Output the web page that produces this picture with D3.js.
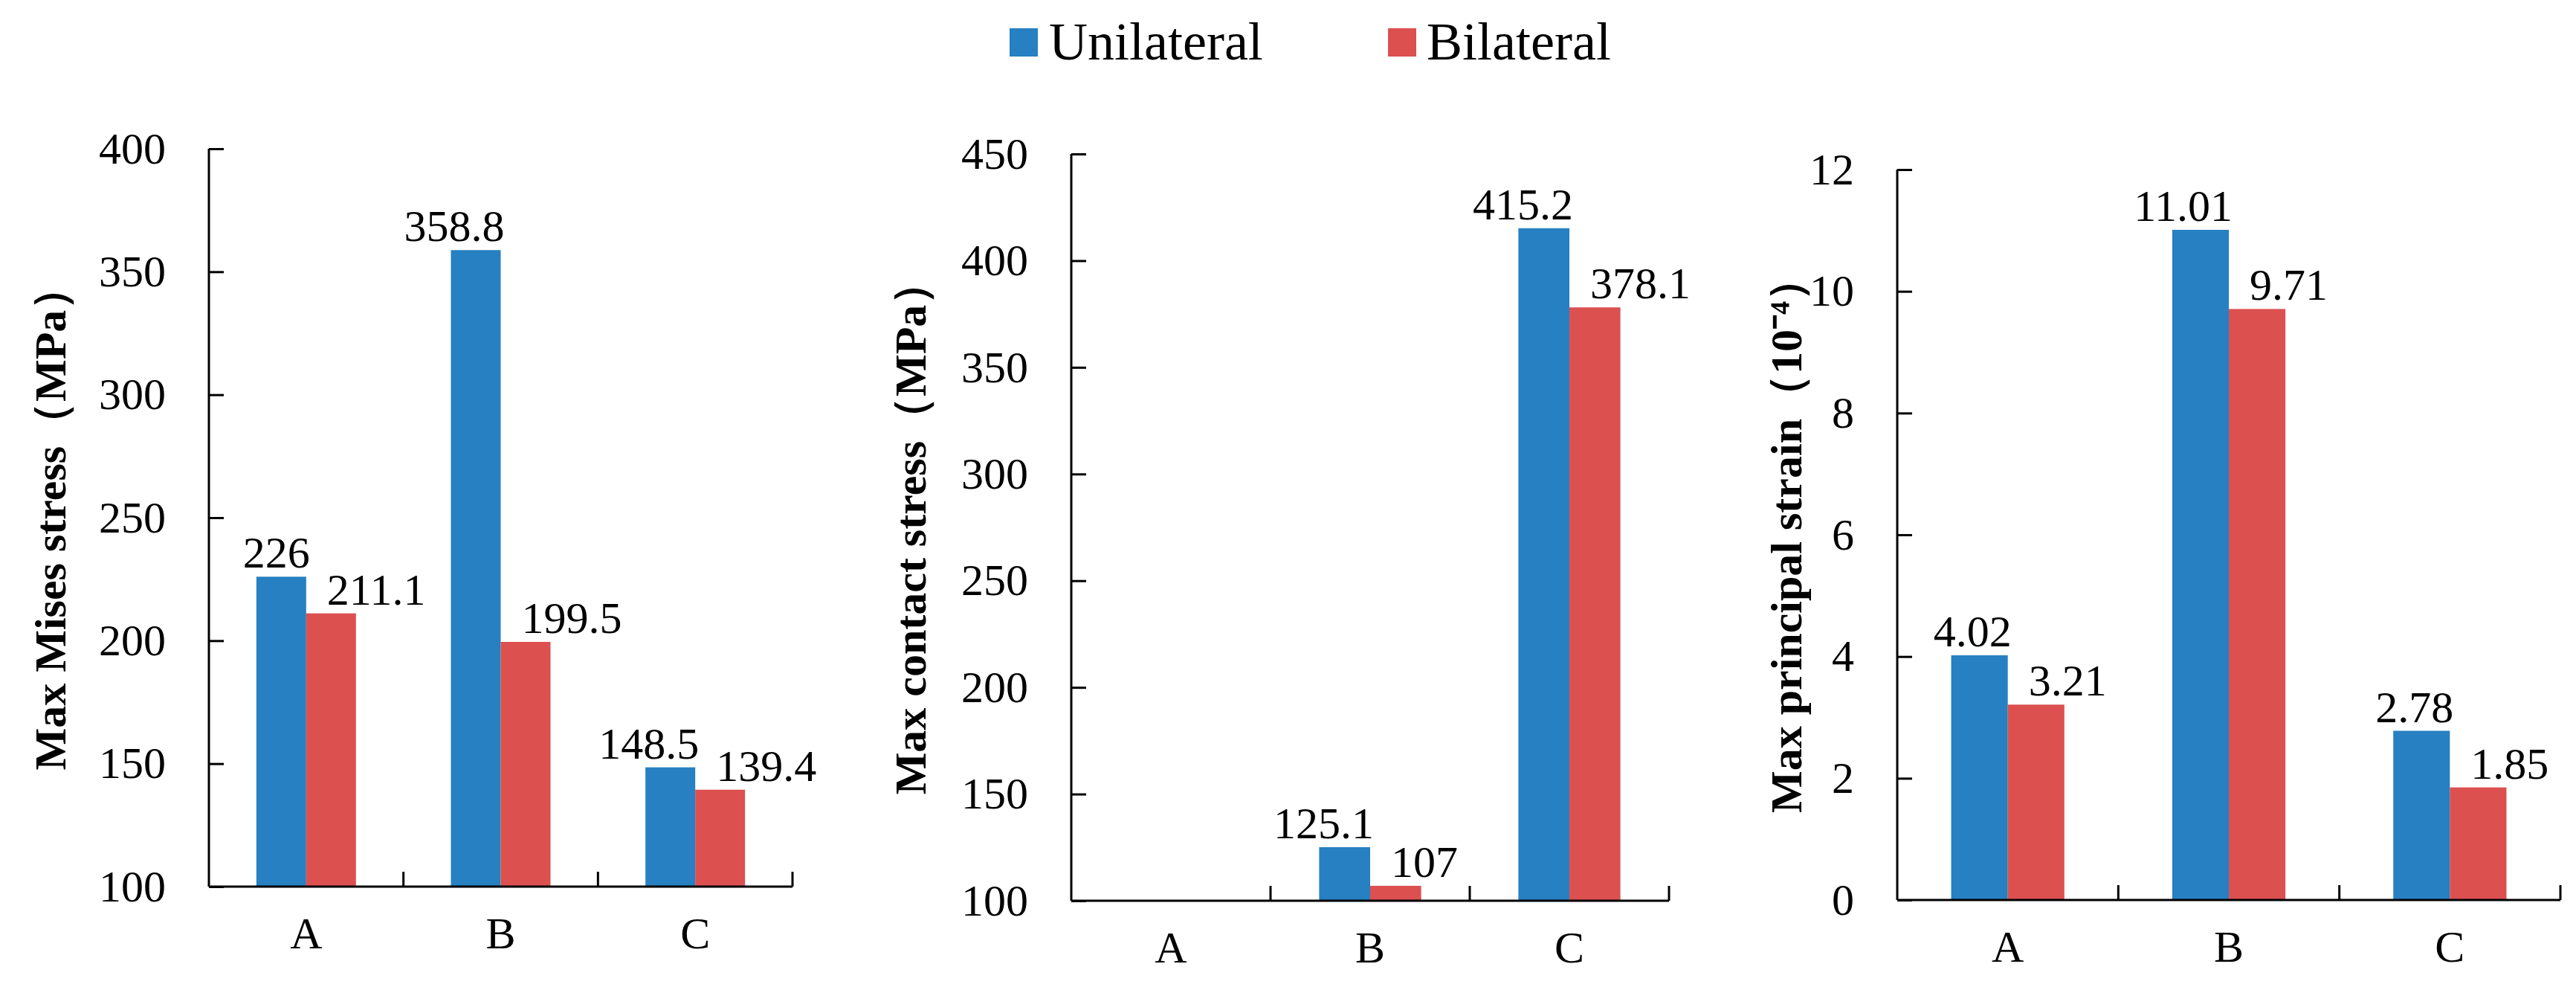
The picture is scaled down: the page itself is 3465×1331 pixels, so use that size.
<!DOCTYPE html>
<html><head><meta charset="utf-8">
<script src="https://cdn.jsdelivr.net/npm/d3@7"></script>
<style>body{margin:0;background:#fff}</style></head>
<body><svg id="c" width="3465" height="1331"></svg>
<script>
const categories = ["A","B","C"];
const seriesNames = ["Unilateral","Bilateral"];
const colors = ["#2680c1","#dc5050"];
const misesUni = [226, 358.8, 148.5];
const misesBi = [211.1, 199.5, 139.4];
const contactUni = [null, 125.1, 415.2];
const contactBi = [null, 107, 378.1];
const strainUni = [4.02, 11.01, 2.78];
const strainBi = [3.21, 9.71, 1.85];
const misesTicks = [100,150,200,250,300,350,400];
const contactTicks = [100,150,200,250,300,350,400,450];
const strainTicks = [0,2,4,6,8,10,12];

const svg = d3.select("#c");
const font = "'Liberation Serif','Times New Roman',serif";

const panels = [
  {x0:281,x1:1066,top:200,bot:1192,dom:[100,400],ticks:misesTicks,uni:misesUni,bi:misesBi,title:"Max Mises stress（MPa）",tx:68},
  {x0:1441,x1:2245,top:207,bot:1211,dom:[100,450],ticks:contactTicks,uni:contactUni,bi:contactBi,title:"Max contact stress（MPa）",tx:1225},
  {x0:2552,x1:3444,top:228,bot:1210,dom:[0,12],ticks:strainTicks,uni:strainUni,bi:strainBi,title:"Max principal strain（10⁻⁴）",tx:2403}
];

panels.forEach(p=>{
  const g = svg.append("g");
  const x = d3.scaleBand().domain(categories).range([p.x0,p.x1]);
  const y = d3.scaleLinear().domain(p.dom).range([p.bot,p.top]);
  const bw = x.bandwidth()*0.256;
  [p.uni,p.bi].forEach((vals,si)=>{
    categories.forEach((c,i)=>{
      const v = vals[i]; if(v==null) return;
      const cx = x(c)+x.bandwidth()/2;
      const left = si===0? cx-bw : cx;
      g.append("rect").attr("x",left).attr("y",y(v)).attr("width",bw).attr("height",p.bot-y(v)).attr("fill",colors[si]);
      g.append("text").attr("x", si===0? left+bw+5 : left+28).attr("y",y(v)-12)
        .attr("text-anchor", si===0?"end":"start").attr("font-family",font).attr("font-size",60).text(v);
    });
  });
  const ya = g.append("g").attr("transform",`translate(${p.x0},0)`)
    .call(d3.axisLeft(y).tickValues(p.ticks).tickSize(-20).tickPadding(58).tickFormat(d3.format("d")));
  const xa = g.append("g").attr("transform",`translate(0,${p.bot})`)
    .call(d3.axisBottom(x).tickSize(0).tickPadding(40));
  [ya,xa].forEach(a=>{a.selectAll("text").attr("font-family",font).attr("font-size",60).attr("fill","#000");
    a.selectAll("path,line").attr("stroke","#000").attr("stroke-width",3);});
  ya.select(".domain").attr("d",`M0,${p.bot}V${p.top}`);
  xa.select(".domain").attr("d",`M${p.x0},0H${p.x1}`);
  // category boundary ticks
  categories.forEach((c,i)=>{
    const bx = x(c)+x.bandwidth();
    g.append("line").attr("x1",bx).attr("x2",bx).attr("y1",p.bot).attr("y2",p.bot-20).attr("stroke","#000").attr("stroke-width",3);
  });
  g.append("text").attr("transform",`translate(${p.tx},${(p.top+p.bot)/2}) rotate(-90)`)
    .attr("text-anchor","middle").attr("dominant-baseline","central").attr("font-family",font)
    .attr("font-weight","bold").attr("font-size",60).text(p.title);
});

// legend
const leg = [{sx:1358,tx:1411},{sx:1867,tx:1919}];
seriesNames.forEach((n,i)=>{
  svg.append("rect").attr("x",leg[i].sx).attr("y",38).attr("width",38).attr("height",38).attr("fill",colors[i]);
  svg.append("text").attr("x",leg[i].tx).attr("y",80).attr("font-family",font).attr("font-size",72).text(n);
});
</script></body></html>
